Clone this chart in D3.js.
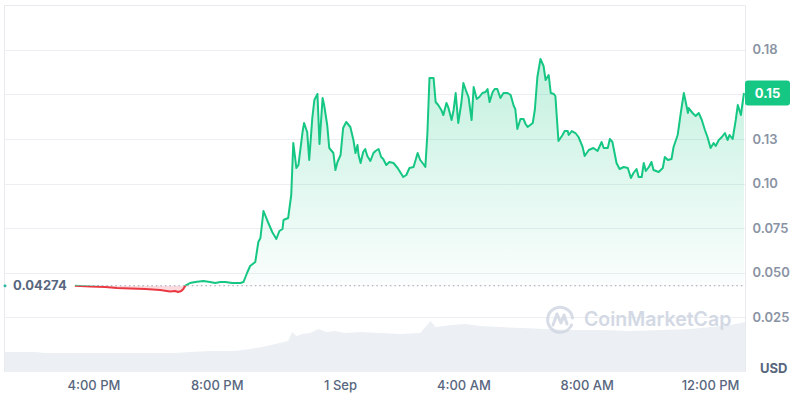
<!DOCTYPE html>
<html>
<head>
<meta charset="utf-8">
<script src="https://cdn.jsdelivr.net/npm/d3@7/dist/d3.min.js"></script>
<style>
html,body{margin:0;padding:0;background:#fff;}
svg{display:block;font-family:Inter,"Noto Sans",sans-serif;}
</style>
</head>
<body>
<svg id="chart" width="800" height="400"></svg>
<script>
// ---- data ----
const startTime = new Date(2023, 7, 31, 13, 8);   // window start, 31 Aug 13:08
const windowMinutes = 1440;
const openPrice = 0.04274;
const currentPrice = 0.1508;
const currentLabel = "0.15";
const openLabel = "0.04274";
const axisUnit = "USD";

// minutes after window start
const priceMinutes = [136,166,195,218,244,273,302,321,331,337,343,347,351,360,370,386,399,409,419,429,442,458,464,471,477,487,493,497,503,510,520,528,534,540,542,551,557,561,567,571,579,582,588,592,598,602,608,612,618,621,627,631,639,643,647,653,658,664,672,678,682,686,688,692,697,701,705,711,717,721,727,732,736,742,748,756,764,775,781,787,795,803,808,814,818,822,826,834,838,843,849,853,859,863,869,873,877,882,888,892,898,902,908,912,918,923,929,935,939,943,949,953,958,964,970,978,984,990,993,997,1003,1009,1013,1017,1027,1031,1036,1042,1048,1052,1058,1062,1068,1071,1077,1085,1089,1095,1097,1103,1110,1116,1124,1128,1136,1145,1153,1161,1165,1173,1177,1182,1190,1196,1204,1212,1218,1223,1229,1233,1239,1243,1247,1253,1258,1262,1272,1280,1284,1290,1297,1301,1309,1315,1321,1329,1330,1338,1344,1350,1356,1362,1367,1373,1379,1383,1389,1395,1401,1406,1410,1416,1422,1426,1432,1438];
const priceValues = [0.04274,0.04232,0.04204,0.04148,0.0412,0.04092,0.04036,0.03952,0.0398,0.03924,0.0398,0.04092,0.0428,0.04428,0.04484,0.0454,0.04484,0.04428,0.04484,0.04484,0.04428,0.04428,0.04484,0.04989,0.05381,0.05605,0.06726,0.06951,0.08464,0.0796,0.07287,0.06895,0.07343,0.07455,0.0796,0.08072,0.09361,0.12276,0.10874,0.11043,0.12892,0.13397,0.12892,0.11323,0.13677,0.14686,0.15022,0.1222,0.14798,0.14406,0.13285,0.11996,0.11715,0.10762,0.11211,0.11603,0.13117,0.13453,0.13173,0.12444,0.11715,0.12164,0.11603,0.11155,0.11771,0.11939,0.11547,0.11267,0.11715,0.11827,0.11939,0.11491,0.11379,0.11043,0.11211,0.11155,0.10874,0.1037,0.10482,0.10874,0.1093,0.11715,0.11323,0.11099,0.1093,0.12836,0.15919,0.15919,0.14574,0.14406,0.14126,0.13845,0.14518,0.14238,0.13565,0.14126,0.15078,0.13397,0.14518,0.15639,0.15135,0.14854,0.13565,0.15415,0.14742,0.14854,0.15078,0.15135,0.15303,0.14574,0.15135,0.15303,0.15303,0.14798,0.15078,0.15078,0.14966,0.1435,0.14182,0.1306,0.13621,0.13621,0.13341,0.13173,0.13397,0.14126,0.15975,0.16984,0.16592,0.15807,0.16087,0.15078,0.15022,0.1491,0.12388,0.12724,0.12948,0.12948,0.12724,0.12948,0.12836,0.12612,0.12052,0.11547,0.11883,0.11996,0.11827,0.12332,0.11996,0.11996,0.125,0.12332,0.11155,0.10818,0.1093,0.10874,0.10314,0.10594,0.10818,0.1037,0.1037,0.11155,0.10706,0.1093,0.11211,0.10762,0.1065,0.10874,0.11491,0.11323,0.11379,0.12052,0.12724,0.13957,0.15078,0.13957,0.14238,0.13957,0.13789,0.13957,0.13565,0.13004,0.12612,0.11996,0.12276,0.12108,0.12444,0.12612,0.12836,0.12444,0.12724,0.125,0.13565,0.14406,0.13845,0.15078];

// volume (relative units)
const volumeMinutes = [0,58,78,185,282,331,360,399,448,477,501,526,551,559,567,579,594,610,625,643,662,692,731,769,808,828,838,867,896,925,964,1003,1052,1101,1159,1218,1276,1334,1373,1412,1440];
const volumeValues  = [20,20,19,19,19,19,20,21,21,23,25,28,31,40,36,38,39,43,40,41,39,40,39,38,39,51,45,47,48,46,45,44,43,42,42,41,42,43,45,47,50];

const yTickValues = [0.025,0.05,0.075,0.1,0.125,0.15,0.175];
const yTickLabels = ["0.025","0.050","0.075","0.10","0.13","0.15","0.18"];
const xTickHours  = [[2023,7,31,16],[2023,7,31,20],[2023,8,1,0],[2023,8,1,4],[2023,8,1,8],[2023,8,1,12]];
const xTickLabels = ["4:00 PM","8:00 PM","1 Sep","4:00 AM","8:00 AM","12:00 PM"];

// ---- layout ----
const svg = d3.select("#chart");
const plotL = 4.5, plotR = 745.5, plotT = 5, zeroY = 362, volBottom = 372;
const GREEN = "#16c784", RED = "#ea3943";

const addMin = m => new Date(startTime.getTime() + m * 60000);
const x = d3.scaleTime().domain([startTime, addMin(windowMinutes)]).range([5, 745]);
const y = d3.scaleLinear().domain([0, 0.2]).range([zeroY, 5.2]);
const yVol = d3.scaleLinear().domain([0, 60]).range([volBottom, volBottom - 60]);

const prices = priceMinutes.map((m, i) => ({t: addMin(m), v: priceValues[i]}));
const vols = volumeMinutes.map((m, i) => ({t: addMin(m), v: volumeValues[i]}));
const yBase = y(openPrice);
const cy = y(currentPrice);

const defs = svg.append("defs");
defs.append("clipPath").attr("id","above").append("rect")
  .attr("x",0).attr("y",0).attr("width",800).attr("height",yBase);
defs.append("clipPath").attr("id","below").append("rect")
  .attr("x",0).attr("y",yBase).attr("width",800).attr("height",400-yBase);
const grad = defs.append("linearGradient").attr("id","gfill")
  .attr("gradientUnits","userSpaceOnUse").attr("x1",0).attr("x2",0)
  .attr("y1", y(d3.max(priceValues))).attr("y2", yBase);
grad.append("stop").attr("offset","0%").attr("stop-color",GREEN).attr("stop-opacity",0.26);
grad.append("stop").attr("offset","100%").attr("stop-color",GREEN).attr("stop-opacity",0.02);

// volume
svg.append("path").datum(vols)
  .attr("fill","#eceff3")
  .attr("d", d3.area().x(d => x(d.t)).y0(volBottom).y1(d => yVol(d.v)));

// gridlines
const grid = svg.append("g");
grid.selectAll("line").data(yTickValues).join("line")
  .attr("x1",plotL).attr("x2",plotR)
  .attr("y1",d => Math.round(y(d))+0.5).attr("y2",d => Math.round(y(d))+0.5)
  .attr("stroke","#eceef2").attr("stroke-width",1);
// frame
svg.append("path")
  .attr("d",`M${plotL},${volBottom}V${plotT+0.5}H${plotR}V${volBottom}`)
  .attr("fill","none").attr("stroke","#e8eaee").attr("stroke-width",1);

// watermark
const wm = svg.append("g").attr("transform","translate(560,319)").attr("opacity",0.9);
wm.append("path")
  .attr("d","M11.5,6 A12.5,12.5 0 1 1 12.5,-1")
  .attr("fill","none").attr("stroke","#d3d9e4").attr("stroke-width",3).attr("stroke-linecap","round");
wm.append("path")
  .attr("d","M-7,6 L-3,-5 L1,4 L4,-4 L7,5")
  .attr("fill","none").attr("stroke","#d3d9e4").attr("stroke-width",3).attr("stroke-linejoin","round").attr("stroke-linecap","round");
svg.append("text").attr("x",584).attr("y",326).text("CoinMarketCap")
  .attr("font-size",19.5).attr("font-weight",600).attr("fill","#d3d9e4");

// areas
const area = d3.area().x(d => x(d.t)).y0(yBase).y1(d => y(d.v));
svg.append("path").datum(prices).attr("clip-path","url(#above)")
  .attr("fill","url(#gfill)").attr("d",area);
svg.append("path").datum(prices).attr("clip-path","url(#below)")
  .attr("fill",RED).attr("fill-opacity",0.18).attr("d",area);

// baseline dotted
svg.append("line").attr("x1",x(prices[0].t)).attr("x2",plotR)
  .attr("y1",yBase).attr("y2",yBase)
  .attr("stroke","#9aa3b3").attr("stroke-width",1).attr("stroke-dasharray","1.5,3");

// lines
const line = d3.line().x(d => x(d.t)).y(d => y(d.v));
svg.append("path").datum(prices).attr("clip-path","url(#above)")
  .attr("fill","none").attr("stroke",GREEN).attr("stroke-width",2).attr("stroke-linejoin","round").attr("d",line);
svg.append("path").datum(prices).attr("clip-path","url(#below)")
  .attr("fill","none").attr("stroke",RED).attr("stroke-width",2).attr("stroke-linejoin","round").attr("d",line);

// y axis (the tick hidden behind the current-price tag is not drawn, as in the reference)
const visibleYTicks = yTickValues.filter(v => Math.abs(y(v) - cy) > 14);
const yAxis = d3.axisRight(y).tickValues(visibleYTicks)
  .tickFormat(d => yTickLabels[yTickValues.indexOf(d)]).tickSize(0).tickPadding(7);
const ya = svg.append("g").attr("transform",`translate(${plotR},0)`).call(yAxis);
ya.select(".domain").remove();
ya.selectAll("text").attr("font-family","Inter,sans-serif").attr("font-size",13)
  .attr("font-weight",600).attr("fill","#8a93a4");

// x axis
const xTicks = xTickHours.map(a => new Date(a[0],a[1],a[2],a[3]));
const xAxis = d3.axisBottom(x).tickValues(xTicks)
  .tickFormat((d,i) => xTickLabels[i]).tickSize(0).tickPadding(0);
const xa = svg.append("g").attr("transform",`translate(0,${volBottom+9})`).call(xAxis);
xa.select(".domain").remove();
xa.selectAll("text").attr("font-family","Inter,sans-serif").attr("font-size",13)
  .attr("font-weight",500).attr("fill","#58667e").attr("dy","0.71em");

// USD unit
svg.append("text").attr("x",760).attr("y",373).text(axisUnit)
  .attr("font-size",13).attr("font-weight",700).attr("fill","#58667e");

// current price tag
svg.append("rect").attr("x",745).attr("y",cy-12.5).attr("width",45).attr("height",25)
  .attr("rx",3).attr("fill",GREEN);
svg.append("text").attr("x",767.5).attr("y",cy).attr("dy","0.35em").attr("text-anchor","middle")
  .text(currentLabel).attr("font-size",13).attr("font-weight",700).attr("fill","#fff");

// open price label
svg.append("circle").attr("cx",5).attr("cy",yBase).attr("r",1.5).attr("fill","#2fb8a0");
svg.append("text").attr("x",13).attr("y",yBase).attr("dy","0.35em").text(openLabel)
  .attr("font-size",13).attr("font-weight",700).attr("fill","#58667e");
</script>
</body>
</html>
